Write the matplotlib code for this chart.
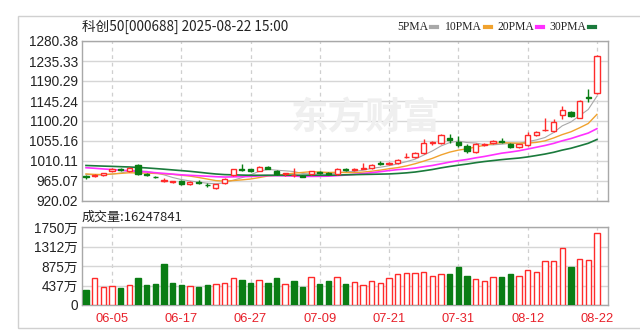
import matplotlib
matplotlib.use('Agg')
import matplotlib.pyplot as plt
from matplotlib.lines import Line2D
from matplotlib.patches import Rectangle
import numpy as np
import pandas as pd

dates = ['05-30', '06-03', '06-04', '06-05', '06-06', '06-09', '06-10', '06-11', '06-12', '06-13',
         '06-16', '06-17', '06-18', '06-19', '06-20', '06-23', '06-24', '06-25', '06-26', '06-27',
         '06-30', '07-01', '07-02', '07-03', '07-04', '07-07', '07-08', '07-09', '07-10', '07-11',
         '07-14', '07-15', '07-16', '07-17', '07-18', '07-21', '07-22', '07-23', '07-24', '07-25',
         '07-28', '07-29', '07-30', '07-31', '08-01', '08-04', '08-05', '08-06', '08-07', '08-08',
         '08-11', '08-12', '08-13', '08-14', '08-15', '08-18', '08-19', '08-20', '08-21', '08-22']

opens = [976, 976, 979, 988, 992, 988, 1001, 981, 975, 966,
         962, 966, 958, 962, 957, 949, 960, 978, 991, 991,
         988, 997, 987, 980, 978, 977, 981, 985, 983, 980,
         992, 989, 993, 994, 1006, 1004, 1005, 1018, 1018, 1029,
         1050, 1050, 1061, 1054, 1044, 1031, 1047, 1050, 1056, 1048,
         1042, 1046, 1069, 1079, 1078, 1114, 1121, 1108, 1154, 1164]
closes = [973, 979, 982, 991, 990, 994, 981, 979, 973, 968,
          964, 958, 963, 960, 955, 958, 970, 991, 989, 987,
          997, 993, 981, 982, 979, 975, 987, 982, 980, 991,
          990, 991, 995, 1001, 1004, 1006, 1012, 1020, 1029, 1050,
          1053, 1068, 1058, 1046, 1033, 1048, 1049, 1056, 1054, 1042,
          1048, 1069, 1075, 1081, 1098, 1124, 1112, 1146, 1151, 1247]
highs = [978, 981, 984, 994, 994, 996, 1003, 983, 976, 972,
         966, 967, 964, 968, 960, 959, 971, 993, 1003, 992,
         998, 999, 990, 983, 994, 979, 988, 987, 985, 995,
         995, 994, 1005, 1003, 1009, 1008, 1014, 1028, 1031, 1059,
         1056, 1070, 1070, 1067, 1049, 1050, 1051, 1058, 1063, 1050,
         1049, 1075, 1077, 1108, 1104, 1134, 1123, 1148, 1172, 1249]
lows = [970, 974, 977, 985, 988, 986, 978, 977, 971, 963,
        961, 957, 957, 958, 952, 947, 958, 976, 987, 985,
        987, 991, 979, 977, 973, 973, 979, 980, 978, 978,
        988, 987, 992, 992, 1002, 1002, 1003, 1017, 1016, 1027,
        1047, 1048, 1050, 1042, 1028, 1029, 1045, 1048, 1051, 1040,
        1040, 1044, 1067, 1078, 1075, 1105, 1110, 1106, 1144, 1160]

# volume in 万
vol = [339, 603, 400, 422, 377, 445, 603, 445, 467, 927,
       490, 445, 422, 415, 445, 467, 490, 603, 550, 498,
       565, 490, 600, 470, 543, 395, 620, 470, 543, 626,
       467, 513, 452, 543, 498, 603, 694, 724, 724, 746,
       641, 694, 694, 852, 641, 588, 543, 618, 618, 694,
       648, 777, 746, 980, 980, 1282, 852, 1033, 1003, 1624.7841]

# closes of the 29 sessions before the window (for the moving averages)
pre_close = [1000, 1003, 1008, 1012, 1015, 1010, 1012, 1015, 1013, 1012,
             1005, 1012, 1018, 1020, 1015, 1010, 1008, 1005, 1000, 997,
             990, 985, 980, 975, 980, 985, 983, 980, 979]

price_ticks = [920.02, 965.07, 1010.11, 1055.16, 1100.20, 1145.24, 1190.29, 1235.33, 1280.38]
vol_ticks = [0, 437, 875, 1312, 1750]
ma_days = [5, 10, 20, 30]
ma_colors = ['#a8a8a8', '#f0a22e', '#ff30ff', '#1a7a3c']
ma_widths = [0.8, 1.0, 1.2, 1.2]

RED = '#ff2a2a'
GREEN = '#0a7d14'
GRID = '#d6d6d6'
SPINE = '#a8a8a8'
num_font = ['Liberation Sans', 'Noto Sans CJK SC']

W, H = 640, 330
fig = plt.figure(figsize=(W / 100, H / 100), dpi=100)

def px(x0, y0, x1, y1):
    return [x0 / W, 1 - y1 / H, (x1 - x0) / W, (y1 - y0) / H]

ax = fig.add_axes(px(82, 41, 608, 201))
axv = fig.add_axes(px(82, 227, 608, 305))

n = len(closes)
x = np.arange(n)
o = np.array(opens, float)
c = np.array(closes, float)
up = c >= o
allc = pd.Series(pre_close + closes, dtype=float)
prev = allc.shift(1).values[-n:]
vol_up = c >= prev

# moving averages
for d, col, lw in zip(ma_days, ma_colors, ma_widths):
    ma = allc.rolling(d).mean().values[-n:]
    ax.plot(x, ma, color=col, lw=lw, zorder=2)

# candles
for i in range(n):
    col = RED if up[i] else GREEN
    ax.vlines(x[i], lows[i], highs[i], color=col, lw=1, zorder=3)
    lo = min(o[i], c[i])
    hgt = max(abs(c[i] - o[i]), 0.3)
    ax.bar(x[i], hgt, bottom=lo, width=0.6, facecolor='white' if up[i] else GREEN,
           edgecolor=col, lw=1, zorder=4)

# volume
for i in range(n):
    col = RED if vol_up[i] else GREEN
    axv.bar(x[i], vol[i], width=0.62, facecolor='white' if vol_up[i] else GREEN,
            edgecolor=col, lw=1, zorder=3)

label_idx = list(range(n - 1, -1, -8))[::-1]
for a in (ax, axv):
    a.set_xlim(-0.46, n + 0.28)
    a.set_xticks(label_idx)
    for s in a.spines.values():
        s.set_color(SPINE)
        s.set_linewidth(1)
    a.tick_params(length=0, labelsize=9.8, colors='#222222', pad=3)
    a.grid(axis='y', color=GRID, lw=1, zorder=0)
    for k in label_idx:
        a.axvline(k, color='#cfcfcf', lw=0.9, ls=(0, (3, 3)), zorder=0)
    a.set_axisbelow(True)

ax.set_ylim(price_ticks[0], price_ticks[-1])
ax.set_yticks(price_ticks)
ax.set_yticklabels(['%.2f' % t for t in price_ticks], family=num_font)
ax.set_xticklabels([])

axv.set_ylim(0, vol_ticks[-1])
axv.set_yticks(vol_ticks)
axv.set_yticklabels(['0'] + ['%d万' % t for t in vol_ticks[1:]], family=num_font)
axv.set_xticklabels([dates[k] for k in label_idx], family=num_font, color='#e8202a', fontsize=9.3)
axv.tick_params(axis='x', pad=6)

# watermark
fig.text(366 / W, 1 - 118 / H, '东方财富', fontsize=27, fontweight='bold', color='#efefef',
         family=['Noto Sans CJK SC'], ha='center', va='center', zorder=0)

# titles
fig.text(82 / W, 1 - 27 / H, '科创50[000688] 2025-08-22 15:00', fontsize=9.8,
         family=['Noto Sans CJK SC', 'DejaVu Sans'], color='#222222', va='center', ha='left')
fig.text(82 / W, 1 - 217 / H, '成交量:%d' % round(vol[-1] * 10000), fontsize=9.4,
         family=['Noto Sans CJK SC', 'DejaVu Sans'], color='#222222', va='center', ha='left')

# legend: label ends just left of its colour dash
dash_x = [431, 485, 537, 589]
for d, col, dx in zip(ma_days, ma_colors, dash_x):
    fig.text((dx - 3) / W, 1 - 27 / H, '%dPMA' % d, fontsize=8.4, family='Liberation Serif',
             color='#222222', va='center', ha='right')
    fig.add_artist(Line2D([dx / W, (dx + 6) / W], [1 - 27 / H, 1 - 27 / H], color=col, lw=3))

# outer frame
fig.add_artist(Rectangle((18 / W, 1 - 328 / H), (660 - 18) / W, (328 - 16) / H,
                         transform=fig.transFigure, fill=False, edgecolor='#d0d0d0', lw=1))

plt.savefig('out.png', dpi=100)
